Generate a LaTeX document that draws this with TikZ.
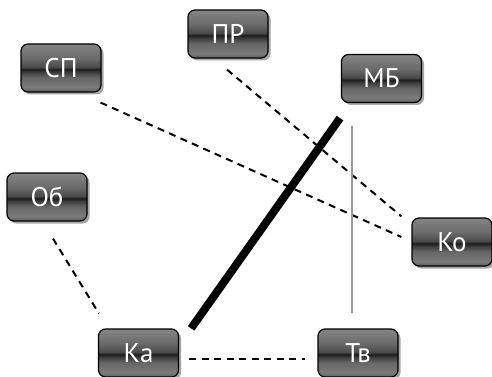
\documentclass[tikz,border=0pt]{standalone}
\usepackage{fontspec}
\setmainfont{PT Sans}
\usetikzlibrary{shadows}

% glossy dark fill with a dark band across the middle
\definecolor{gA}{HTML}{858585}
\definecolor{gB}{HTML}{6A6A6A}
\definecolor{gC}{HTML}{4A4A4A}
\definecolor{gD}{HTML}{1C1C1C}
\definecolor{gE}{HTML}{3A3A3A}
\definecolor{gF}{HTML}{666666}
\definecolor{gG}{HTML}{7A7A7A}
\definecolor{gH}{HTML}{606060}
\pgfdeclareverticalshading{glossbox}{100bp}{%
  color(0bp)=(gH); color(25bp)=(gH); color(30bp)=(gG); color(40bp)=(gF);
  color(46bp)=(gE); color(48.5bp)=(gD); color(51bp)=(gC); color(60bp)=(gB);
  color(75bp)=(gA); color(100bp)=(gA)}

\tikzset{
  tag/.style={draw=black, line width=1.2pt, rounded corners=7pt,
    shading=glossbox, minimum width=80pt, minimum height=48pt,
    text=white, font=\fontsize{27}{27}\selectfont, inner sep=0pt,
    drop shadow={shadow xshift=2.5pt, shadow yshift=-2.5pt,
      fill=black, opacity=0.35}},
  dashlink/.style={line width=2pt, dash pattern=on 7pt off 5.5pt},
  strong/.style={line width=8pt},
  faint/.style={line width=1.4pt, color=black!40},
}

\begin{document}
\begin{tikzpicture}[x=1pt, y=-1pt]
\useasboundingbox (0,0) rectangle (492,377);

\node[tag] (PR) at (228,34) {ПР};
\node[tag] (SP) at (61,68) {СП};
\node[tag] (MB) at (381.5,78.5) {МБ};
\node[tag] (Ob) at (47,197) {Об};
\node[tag] (Ko) at (452,242) {Ко};
\node[tag] (Ka) at (138.5,353) {Ка};
\node[tag] (Tv) at (358,353) {Тв};

\draw[dashlink] ([shift={(-1,10)}]SP.south east) -- ([shift={(-10,-5)}]Ko.west);
\draw[dashlink] ([shift={(-1,11)}]PR.south) -- ([shift={(-10,-1)}]Ko.north west);
\draw[faint] ([shift={(-29.5,23)}]MB.south) -- ([shift={(-6,-15)}]Tv.north);
\draw[strong] ([shift={(-41.5,15)}]MB.south) -- ([shift={(12,0)}]Ka.north east);
\draw[dashlink] ([shift={(6,17)}]Ob.south) -- ([shift={(1,-15)}]Ka.north west);
\draw[dashlink] ([shift={(10,6)}]Ka.east) -- ([shift={(-12,6)}]Tv.west);
\end{tikzpicture}
\end{document}
